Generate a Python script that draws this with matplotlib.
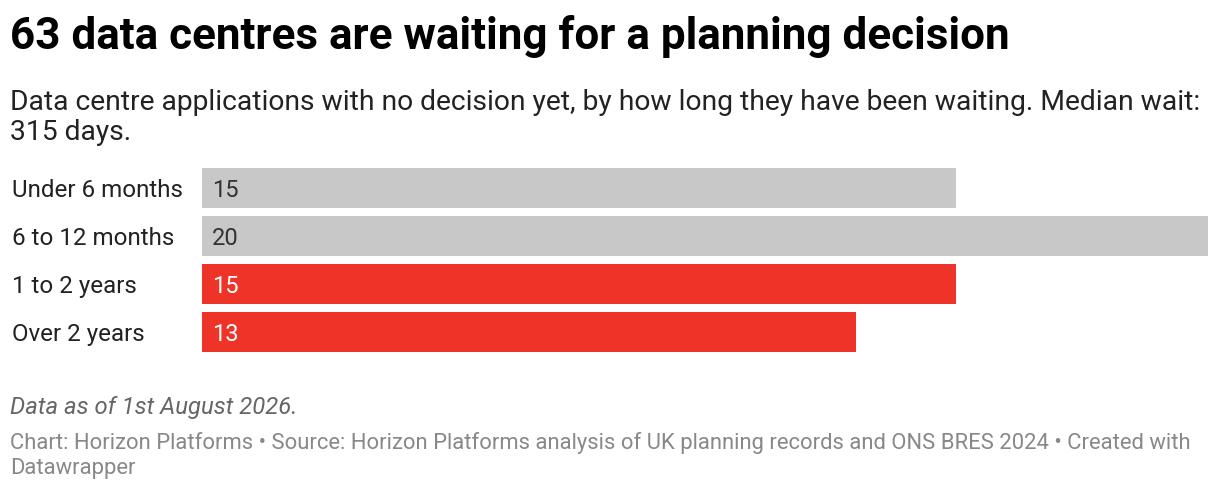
import matplotlib
matplotlib.use("Agg")
import matplotlib.pyplot as plt

categories = ["Under 6 months", "6 to 12 months", "1 to 2 years", "Over 2 years"]
values = [15, 20, 15, 13]
bar_colors = ["#c8c8c8", "#c8c8c8", "#ee3329", "#ee3329"]
label_colors = ["#333333", "#333333", "#ffffff", "#ffffff"]

title = "63 data centres are waiting for a planning decision"
subtitle_lines = ["Data centre applications with no decision yet, by how long they have been waiting. Median wait:",
                  "315 days."]
note = "Data as of 1st August 2026."
source_lines = ["Chart: Horizon Platforms \u2022 Source: Horizon Platforms analysis of UK planning records and ONS BRES 2024 \u2022 Created with",
                "Datawrapper"]

plt.rcParams['font.family'] = ['Roboto', 'DejaVu Sans']

W, H = 1220, 492
fig = plt.figure(figsize=(W / 100, H / 100), dpi=100)
fig.patch.set_facecolor("white")

def fx(px):
    return px / W

def fy(py):
    return 1 - py / H

# axes: rows 48 px apart, starting at y=164
ax = fig.add_axes([fx(202), fy(356), fx(1208) - fx(202), (356 - 164) / H])
ax.barh(range(len(values)), values, height=40 / 48, color=bar_colors, edgecolor="none")
ax.set_xlim(0, max(values))
ax.set_ylim(len(values) - 0.5, -0.5)
ax.axis("off")

for i, (v, c) in enumerate(zip(values, label_colors)):
    ax.annotate(str(v), xy=(0, i), xytext=(10, 0), textcoords="offset pixels",
                va="center_baseline", ha="left", color=c, fontsize=17)

for i, cat in enumerate(categories):
    y_center = 188 + 48 * i
    fig.text(fx(12), fy(y_center), cat, ha="left", va="center_baseline",
             fontsize=17.4, color="#222222")

fig.text(fx(10), fy(49), title, ha="left", va="baseline", fontsize=31.7,
         fontweight="bold", color="#000000")
for k, line in enumerate(subtitle_lines):
    fig.text(fx(10), fy(110 + 30 * k), line, ha="left", va="baseline", fontsize=20.3,
             color="#222222")
fig.text(fx(10), fy(414), note, ha="left", va="baseline", fontsize=17.2,
         style="italic", color="#666666")
for k, line in enumerate(source_lines):
    fig.text(fx(10), fy(449 + 25 * k), line, ha="left", va="baseline", fontsize=15.8,
             color="#888888")

fig.savefig("out.png", dpi=100, facecolor="white")
